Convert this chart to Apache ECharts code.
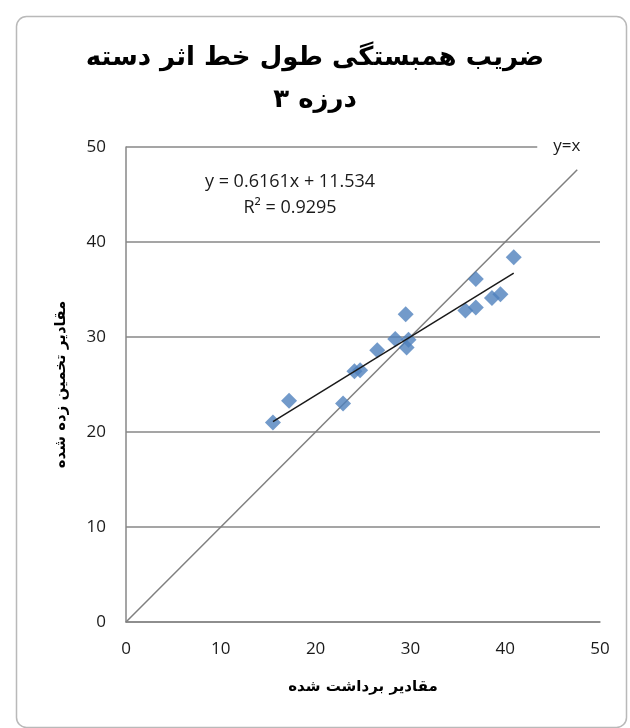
<!DOCTYPE html>
<html>
<head>
<meta charset="utf-8">
<script src="https://cdn.jsdelivr.net/npm/echarts@6/dist/echarts.min.js"></script>
<style>
  html, body { margin: 0; padding: 0; background: #ffffff; }
  #chart { width: 630px; height: 728px; }
</style>
</head>
<body>
<div id="chart"></div>
<script>
// Measured vs. estimated values (x = measured, y = estimated)
const measured = [15.5, 17.2, 22.9, 24.1, 24.7, 26.5, 28.4, 29.5, 29.6, 29.8, 35.8, 36.9, 36.9, 38.6, 39.5, 40.9];
const estimated = [21.0, 23.3, 23.0, 26.4, 26.5, 28.6, 29.8, 32.4, 28.9, 29.7, 32.8, 36.1, 33.1, 34.1, 34.5, 38.4];

// Linear trend fitted to the points
const slope = 0.6161;
const intercept = 11.534;
const rSquared = 0.9295;

// Reference line y = x
const identityEnds = [0, 47.6];

const axisTicks = [0, 10, 20, 30, 40, 50];

const titleText = 'ضریب همبستگی طول خط اثر دسته\nدرزه ۳';
const xAxisTitle = 'مقادیر برداشت شده';
const yAxisTitle = 'مقادیر تخمین زده شده';

const points = measured.map((x, i) => [x, estimated[i]]);
const xMin = Math.min(...measured);
const xMax = Math.max(...measured);
const trendPoints = [xMin, xMax].map(x => [x, slope * x + intercept]);
const identityPoints = identityEnds.map(v => [v, v]);

const chart = echarts.init(document.getElementById('chart'), null, { renderer: 'canvas' });

const latinFont = 'Open Sans, Liberation Sans, sans-serif';
const tickFont = { fontFamily: latinFont, fontSize: 17, color: '#1a1a1a' };
const axisColor = '#878787';

chart.setOption({
  animation: false,
  backgroundColor: '#ffffff',
  title: {
    text: titleText,
    left: 'center',
    top: 32,
    textStyle: {
      fontFamily: 'DejaVu Sans',
      fontWeight: 'bold',
      fontSize: 26,
      lineHeight: 42,
      color: '#000'
    }
  },
  grid: { left: 126, right: 30, top: 147, bottom: 106 },
  xAxis: {
    type: 'value',
    min: axisTicks[0],
    max: axisTicks[axisTicks.length - 1],
    interval: 10,
    name: xAxisTitle,
    nameLocation: 'middle',
    nameGap: 58,
    nameTextStyle: { fontFamily: 'DejaVu Sans', fontWeight: 'bold', fontSize: 15, color: '#000' },
    axisLine: { show: true, lineStyle: { color: axisColor, width: 1.5 } },
    axisTick: { show: false },
    splitLine: { show: false },
    axisLabel: Object.assign({ margin: 19 }, tickFont)
  },
  yAxis: {
    type: 'value',
    min: axisTicks[0],
    max: axisTicks[axisTicks.length - 1],
    interval: 10,
    name: yAxisTitle,
    nameLocation: 'middle',
    nameGap: 57,
    nameRotate: 90,
    nameTextStyle: { fontFamily: 'DejaVu Sans', fontWeight: 'bold', fontSize: 15, color: '#000' },
    axisLine: { show: true, lineStyle: { color: axisColor, width: 1.5 } },
    axisTick: { show: false },
    splitLine: { show: true, lineStyle: { color: axisColor, width: 1.5 } },
    axisLabel: Object.assign({ margin: 20 }, tickFont)
  },
  series: [
    {
      name: 'y=x',
      type: 'line',
      data: identityPoints,
      symbol: 'none',
      lineStyle: { color: '#7f7f7f', width: 1.5 },
      z: 2,
      endLabel: {
        show: true,
        formatter: 'y=x',
        fontFamily: latinFont,
        fontSize: 17,
        color: '#1a1a1a',
        backgroundColor: '#ffffff',
        padding: [3, 34, 3, 16],
        offset: [-48, -24]
      }
    },
    {
      name: 'trend',
      type: 'line',
      data: trendPoints,
      symbol: 'none',
      lineStyle: { color: '#1a1a1a', width: 1.5 },
      z: 4
    },
    {
      name: 'data',
      type: 'scatter',
      data: points,
      symbol: 'diamond',
      symbolSize: 16,
      itemStyle: { color: '#4f81bd' },
      z: 3
    }
  ],
  graphic: [
    {
      type: 'rect',
      left: 14,
      top: 14,
      shape: { width: 610, height: 711, r: 10 },
      style: { fill: 'none', stroke: '#b9b9b9', lineWidth: 1.5 },
      silent: true
    },
    {
      type: 'text',
      x: 290,
      y: 182,
      style: {
        text: 'y = ' + slope + 'x + ' + intercept,
        font: '18px "Open Sans", "Liberation Sans", sans-serif',
        fill: '#1a1a1a',
        align: 'center',
        verticalAlign: 'middle'
      }
    },
    {
      type: 'text',
      x: 290,
      y: 208,
      style: {
        text: 'R² = ' + rSquared,
        font: '18px "Open Sans", "Liberation Sans", sans-serif',
        fill: '#1a1a1a',
        align: 'center',
        verticalAlign: 'middle'
      }
    }
  ]
});
</script>
</body>
</html>
